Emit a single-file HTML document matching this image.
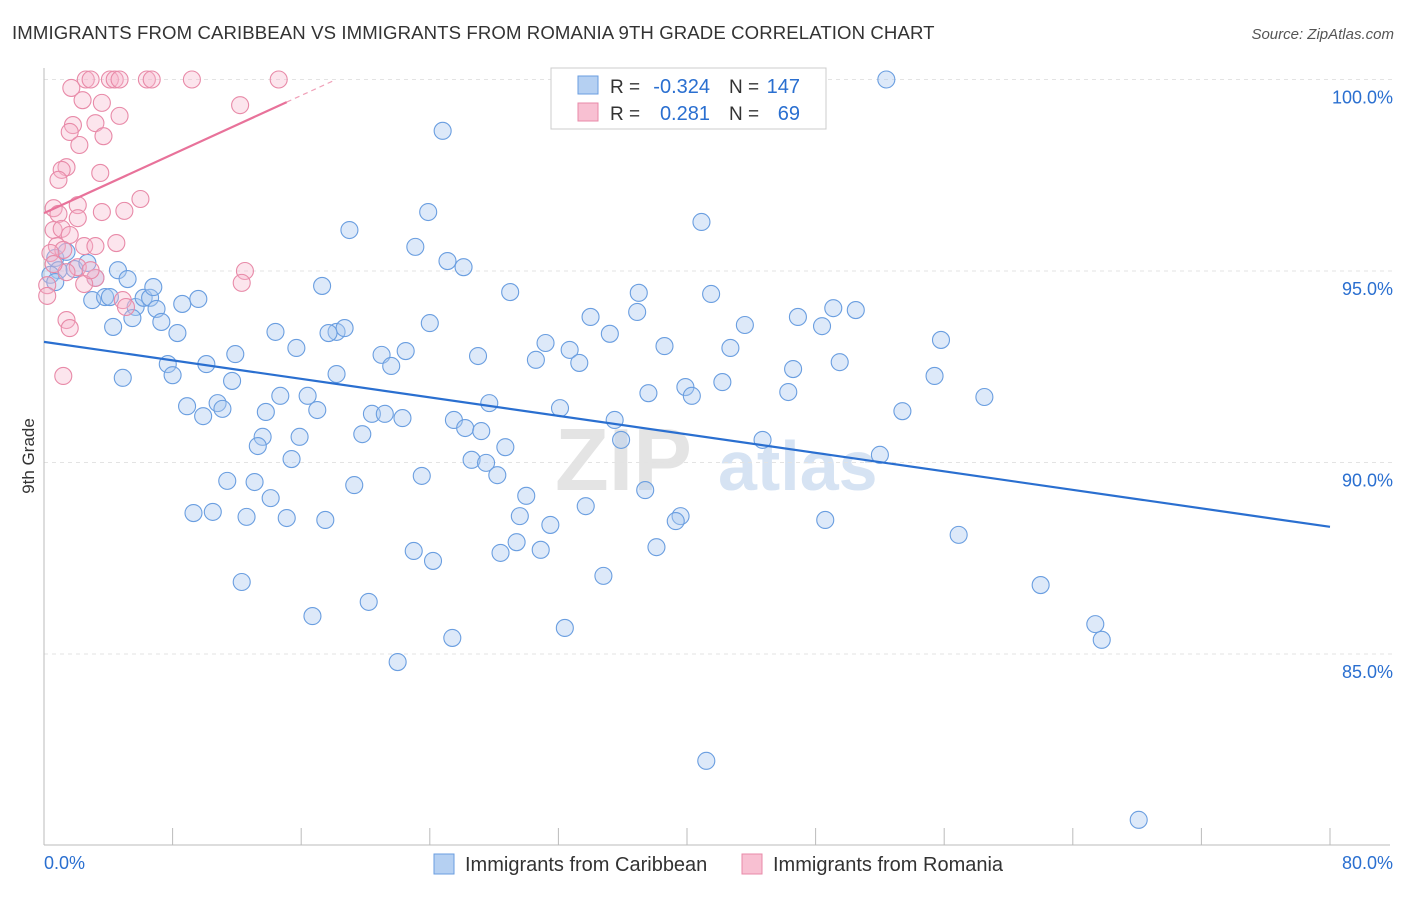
<!DOCTYPE html>
<html><head><meta charset="utf-8">
<style>
body{margin:0;background:#fff;font-family:"Liberation Sans",sans-serif;}
svg text{font-family:"Liberation Sans",sans-serif;}
</style></head>
<body>
<svg id="chart" width="1406" height="892" xmlns="http://www.w3.org/2000/svg">
<text x="12" y="39" font-size="18.6" letter-spacing="0.1" fill="#333">IMMIGRANTS FROM CARIBBEAN VS IMMIGRANTS FROM ROMANIA 9TH GRADE CORRELATION CHART</text>
<text x="1394" y="39" font-size="15" fill="#555" font-style="italic" text-anchor="end">Source: ZipAtlas.com</text>
<g>
<text x="555" y="490" font-size="88" fill="#e4e4e4" font-family="Liberation Serif" font-weight="bold">ZIP</text>
<text x="718" y="490" font-size="70" fill="#d6e3f3" font-weight="bold">atlas</text>
</g>
<g id="grid"></g>
<g id="axes"></g>
<g id="pts"></g>
<g id="trends"></g>
<text x="34" y="456" font-size="17" fill="#333" transform="rotate(-90 34 456)" text-anchor="middle">9th Grade</text>
<g>
<rect x="551" y="68" width="275" height="61" fill="#fff" stroke="#ccc"/>
<rect x="578" y="76" width="20" height="18" fill="#b5d0f2" stroke="#6a9ee0"/>
<rect x="578" y="103" width="20" height="18" fill="#f8c0d2" stroke="#e88aa8"/>
<text x="610" y="93" font-size="19" fill="#333">R =</text>
<text x="710" y="93" font-size="20" fill="#2a6fd0" text-anchor="end">-0.324</text>
<text x="729" y="93" font-size="19" fill="#333">N =</text>
<text x="800" y="93" font-size="20" fill="#2a6fd0" text-anchor="end">147</text>
<text x="610" y="120" font-size="19" fill="#333">R =</text>
<text x="710" y="120" font-size="20" fill="#2a6fd0" text-anchor="end">0.281</text>
<text x="729" y="120" font-size="19" fill="#333">N =</text>
<text x="800" y="120" font-size="20" fill="#2a6fd0" text-anchor="end">69</text>
</g>
<g>
<rect x="434" y="854" width="20" height="20" fill="#b5d0f2" stroke="#6a9ee0"/>
<text x="465" y="871" font-size="20" fill="#333">Immigrants from Caribbean</text>
<rect x="742" y="854" width="20" height="20" fill="#f8c0d2" stroke="#e88aa8"/>
<text x="773" y="871" font-size="20" fill="#333">Immigrants from Romania</text>
</g>
</svg>
<script>
const yTicks=[100,95,90,85];
const yTickLabels=["100.0%","95.0%","90.0%","85.0%"];
const xTicks=[0,8,16,24,32,40,48,56,64,72,80];
const blueX=[52.4,24.8,40.9,23.9,19.0,23.1,25.1,26.1,29.0,17.3,37.0,41.5,34.0,36.9,43.6,46.9,49.1,50.5,48.4,55.8,35.2,38.6,42.7,31.2,32.7,30.6,33.3,27.0,22.5,21.0,21.6,24.0,18.2,18.7,17.7,14.4,15.7,11.9,10.1,7.7,8.0,4.9,11.7,18.2,49.5,46.6,42.2,39.9,40.3,37.6,46.3,55.4,58.5,53.4,32.1,27.7,35.5,35.9,25.5,26.2,27.2,28.7,26.6,27.5,28.2,23.5,19.3,19.8,20.4,21.2,22.3,17.0,16.4,14.7,13.8,15.9,13.6,13.3,15.4,10.8,11.1,9.9,8.9,11.4,13.1,14.1,9.3,10.5,12.6,15.1,17.5,30.0,33.7,37.4,29.6,31.5,39.6,39.3,44.7,52.0,48.6,56.9,29.4,28.4,30.9,23.0,24.2,38.1,34.8,12.3,16.7,20.2,25.4,32.4,22.0,62.0,65.4,65.8,41.2,68.1,0.7,1.4,1.9,0.9,0.4,0.7,2.7,3.0,3.2,4.6,5.2,3.8,4.1,5.7,6.2,6.6,6.8,7.0,7.3,8.3,4.3,8.6,9.6,5.5];
const blueY=[100.0,98.66,96.28,96.54,96.07,95.63,95.26,95.10,94.45,94.61,94.43,94.40,93.80,93.93,93.59,93.80,94.03,93.98,93.56,93.20,93.36,93.04,92.99,93.12,92.94,92.68,92.60,92.78,92.91,92.81,92.52,93.64,93.41,93.51,93.38,93.41,92.99,92.83,92.57,92.57,92.28,92.21,92.13,92.31,92.62,92.44,92.10,91.97,91.74,91.81,91.84,92.26,91.71,91.34,91.42,91.55,91.11,90.59,91.11,90.90,90.82,90.40,90.07,89.99,89.67,89.65,89.41,90.74,91.27,91.27,91.16,91.37,91.74,91.74,91.32,90.67,90.67,90.43,90.09,91.55,91.40,91.21,91.47,89.52,89.49,89.07,88.68,88.71,88.58,88.55,88.50,89.13,88.86,89.28,88.60,88.37,88.60,88.47,90.59,90.20,88.50,88.11,87.92,87.64,87.72,87.69,87.43,87.79,87.04,86.88,85.99,86.36,85.42,85.68,84.79,86.80,85.78,85.37,82.21,80.67,95.34,95.50,95.05,95.02,94.90,94.71,95.21,94.24,94.82,95.02,94.79,94.32,94.32,94.06,94.30,94.30,94.58,94.01,93.67,93.38,93.54,94.14,94.27,93.77];
const pinkX=[2.6,2.9,4.1,4.4,4.7,6.4,6.7,9.2,14.6,1.7,2.4,3.6,12.2,4.7,3.2,1.8,1.6,3.7,2.2,1.4,1.1,0.9,3.5,6.0,2.1,5.0,3.6,0.6,0.9,2.1,0.6,1.1,1.6,0.8,2.5,3.2,1.2,4.5,0.4,2.1,1.4,3.2,2.5,0.2,0.2,12.5,12.3,4.9,5.1,1.4,1.6,1.2,0.6,2.9];
const pinkY=[100,100,100,100,100,100,100,100,100,99.78,99.46,99.39,99.33,99.05,98.86,98.81,98.63,98.52,98.29,97.71,97.64,97.38,97.56,96.88,96.72,96.57,96.54,96.64,96.49,96.38,96.07,96.10,95.94,95.65,95.65,95.65,95.55,95.73,95.47,95.10,94.97,94.82,94.66,94.63,94.35,95.00,94.69,94.24,94.06,93.72,93.51,92.26,95.18,95.02];
const blueTrend=[93.15,88.32];
const pinkTrend=[96.51,99.41,15.1];
const NS="http://www.w3.org/2000/svg";
const X0=44,X1=1330,Y100=79.5,PX=38.3;
const sx=v=>X0+(v/80)*(X1-X0);
const sy=v=>Y100+(100-v)*PX;
function mk(tag,attrs,parent){const e=document.createElementNS(NS,tag);for(const k in attrs)e.setAttribute(k,attrs[k]);parent.appendChild(e);return e;}
const grid=document.getElementById('grid'),axes=document.getElementById('axes'),pts=document.getElementById('pts'),tr=document.getElementById('trends');
yTicks.forEach((t,i)=>{
 const l=mk('line',{x1:X0,x2:1394,y1:sy(t),y2:sy(t),stroke:'#e3e3e3','stroke-dasharray':'4 4'},grid);
 
 
 const tx=mk('text',{x:1393,y:sy(t)+24,'font-size':18,fill:'#2a6fd0','text-anchor':'end'},axes);
 tx.textContent=yTickLabels[i];
 
 
});
mk('line',{x1:X0,x2:X0,y1:68,y2:845,stroke:'#bbb'},axes);
mk('line',{x1:X0,x2:X1+60,y1:845,y2:845,stroke:'#bbb'},axes);
xTicks.forEach(t=>{
 const l=mk('line',{x1:sx(t),x2:sx(t),y1:828,y2:845,stroke:'#bbb'},axes);
 
 
});
const xl0=mk('text',{x:44,y:869,'font-size':18,fill:'#2a6fd0'},axes);xl0.textContent='0.0%';


const xl1=mk('text',{x:1393,y:869,'font-size':18,fill:'#2a6fd0','text-anchor':'end'},axes);xl1.textContent='80.0%';


blueX.forEach((v,i)=>{
 const c=mk('circle',{cx:sx(v),cy:sy(blueY[i]),r:8.5,fill:'rgba(170,200,240,0.4)',stroke:'#6a9ee0','stroke-width':1.1},pts);
 
 
});
pinkX.forEach((v,i)=>{
 const c=mk('circle',{cx:sx(v),cy:sy(pinkY[i]),r:8.5,fill:'rgba(246,180,204,0.35)',stroke:'#e88aa8','stroke-width':1.1},pts);
 
 
});
const bl=mk('line',{x1:sx(0),y1:sy(blueTrend[0]),x2:sx(80),y2:sy(blueTrend[1]),stroke:'#2a6fd0','stroke-width':2.2},tr);


const slope=(pinkTrend[1]-pinkTrend[0])/pinkTrend[2];
const pl=mk('line',{x1:sx(0),y1:sy(pinkTrend[0]),x2:sx(pinkTrend[2]),y2:sy(pinkTrend[1]),stroke:'#e8729a','stroke-width':2.2},tr);


const xe=18.1;
const pd=mk('line',{x1:sx(pinkTrend[2]),y1:sy(pinkTrend[1]),x2:sx(xe),y2:sy(pinkTrend[0]+slope*xe),stroke:'#f0a0b8','stroke-width':1.2,'stroke-dasharray':'5 4'},tr);


</script>
</body></html>
